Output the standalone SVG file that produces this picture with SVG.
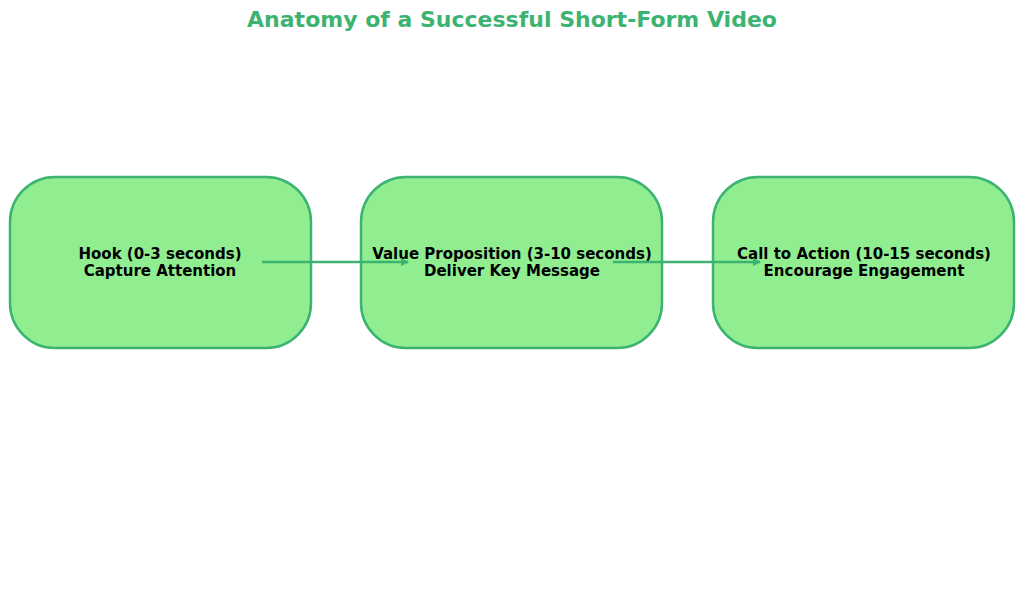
<svg xmlns="http://www.w3.org/2000/svg" width="1024" height="614" viewBox="0 0 1024 614">
<style>
.box{fill:#90EE90;stroke:#3CB371;stroke-width:2.5}
.t{font-family:"DejaVu Sans",sans-serif;font-weight:bold;font-size:15px;fill:#000;text-anchor:middle}
.c{stroke:#3CB371;stroke-width:2.5;fill:none;marker-end:url(#a)}
</style>
<defs><marker id="a" markerWidth="8" markerHeight="8" refX="7" refY="4" orient="auto" markerUnits="userSpaceOnUse"><path d="M0,0 L8,4 L0,8 Z" fill="#3CB371"/></marker></defs>
<rect width="1024" height="614" fill="#fff"/>
<text x="512" y="27" font-family="DejaVu Sans,sans-serif" font-weight="bold" font-size="22" fill="#3CB371" text-anchor="middle">Anatomy of a Successful Short-Form Video</text>
<g id="n1"><rect class="box" x="10" y="177" width="301" height="171" rx="45"/><text class="t" x="160" y="259">Hook (0-3 seconds)</text><text class="t" x="160" y="276">Capture Attention</text></g>
<g id="n2"><rect class="box" x="361" y="177" width="301" height="171" rx="45"/><text class="t" x="512" y="259">Value Proposition (3-10 seconds)</text><text class="t" x="512" y="276">Deliver Key Message</text></g>
<g id="n3"><rect class="box" x="713" y="177" width="301" height="171" rx="45"/><text class="t" x="864" y="259">Call to Action (10-15 seconds)</text><text class="t" x="864" y="276">Encourage Engagement</text></g>
<g id="connectors"><line class="c" x1="262" y1="262" x2="408" y2="262"/><line class="c" x1="613" y1="262" x2="760" y2="262"/></g>
</svg>
